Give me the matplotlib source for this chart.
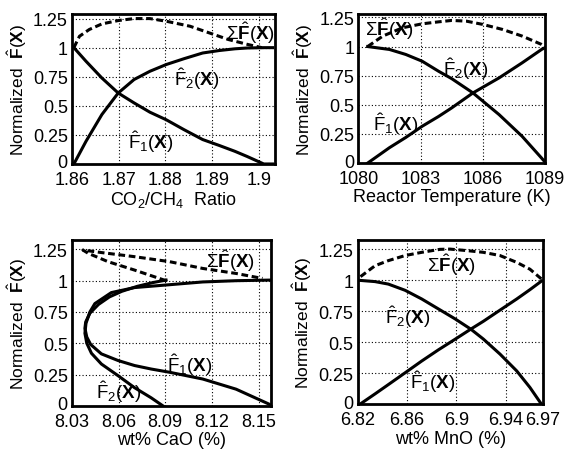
import numpy as np
import matplotlib
matplotlib.use("Agg")
import matplotlib.pyplot as plt
import matplotlib.transforms as mtransforms

plt.rcParams['font.family'] = ['Liberation Sans', 'DejaVu Sans']
plt.rcParams['mathtext.fontset'] = 'custom'
plt.rcParams['mathtext.rm'] = 'Liberation Sans'
plt.rcParams['mathtext.it'] = 'Liberation Sans'
plt.rcParams['mathtext.bf'] = 'Liberation Sans:bold'

# --- data ---
# CO2/CH4 ratio
ratio = [1.8604, 1.863, 1.8664, 1.8699, 1.8733, 1.8767, 1.8802, 1.8840, 1.888, 1.8915, 1.8949, 1.8975, 1.9011, 1.9030]
ratio_f1 = [1.0, 0.883, 0.739, 0.61, 0.525, 0.445, 0.38, 0.295, 0.21, 0.16, 0.109, 0.065, 0.0, 0.0]
ratio_f2 = [0.0, 0.195, 0.425, 0.61, 0.726, 0.797, 0.855, 0.905, 0.954, 0.975, 0.99, 0.997, 1.0, 1.0]
ratio_sum_x = [1.8604, 1.8616, 1.8637, 1.8664, 1.8699, 1.8733, 1.8767, 1.8802, 1.8853, 1.8894, 1.8935, 1.8977, 1.9007]
ratio_sum = [1.0, 1.098, 1.156, 1.204, 1.233, 1.25, 1.25, 1.227, 1.184, 1.127, 1.07, 1.027, 1.0]

# reactor temperature
temp = [1080.45, 1081.5, 1082.29, 1083.08, 1083.87, 1084.5, 1085.53, 1086.79, 1087.9, 1088.84, 1089.0]
temp_f1 = [0.0, 0.132, 0.22, 0.316, 0.40, 0.473, 0.602, 0.731, 0.86, 0.975, 0.99]
temp_f2 = [1.0, 0.975, 0.932, 0.874, 0.788, 0.725, 0.602, 0.416, 0.23, 0.043, 0.01]
temp_sum_x = [1080.45, 1081.18, 1082.13, 1083.08, 1083.87, 1084.5, 1085.21, 1086.0, 1086.95, 1087.9, 1088.84, 1089.0]
temp_sum = [1.0, 1.09, 1.161, 1.195, 1.212, 1.224, 1.218, 1.19, 1.147, 1.09, 1.018, 1.0]

# wt% CaO (the curves fold back on themselves)
cao_f1_x = [8.0905, 8.082, 8.072, 8.062, 8.054, 8.047, 8.0415, 8.0388, 8.0383, 8.0395, 8.042,
            8.0489, 8.0596, 8.0702, 8.0809, 8.0928, 8.1141, 8.1355, 8.1568, 8.158]
cao_f1 = [1.005, 0.985, 0.955, 0.915, 0.87, 0.81, 0.74, 0.67, 0.62, 0.55, 0.49,
          0.415, 0.362, 0.322, 0.294, 0.268, 0.214, 0.133, 0.013, 0.0]
cao_f2_x = [8.0884, 8.0809, 8.0702, 8.0596, 8.0489, 8.0425, 8.0395, 8.0383, 8.039, 8.0415,
            8.0447, 8.0553, 8.0702, 8.0928, 8.1141, 8.1355, 8.158]
cao_f2 = [0.0, 0.064, 0.145, 0.241, 0.334, 0.42, 0.50, 0.58, 0.66, 0.75,
          0.817, 0.905, 0.945, 0.968, 0.99, 1.0, 1.005]
cao_sum_x = [8.0905, 8.0702, 8.0532, 8.0404, 8.037, 8.0489, 8.0702, 8.0928, 8.1141, 8.1355, 8.1525]
cao_sum = [1.0, 1.085, 1.152, 1.219, 1.245, 1.225, 1.192, 1.152, 1.098, 1.058, 1.018]

# wt% MnO
mno = [6.8215, 6.834, 6.8448, 6.8584, 6.8719, 6.8854, 6.8989, 6.9117, 6.9219, 6.9354, 6.949, 6.9597, 6.9692]
mno_f1 = [0.0, 0.085, 0.16, 0.255, 0.35, 0.44, 0.525, 0.607, 0.67, 0.76, 0.85, 0.925, 0.995]
mno_f2 = [1.0, 0.99, 0.97, 0.92, 0.85, 0.77, 0.69, 0.607, 0.527, 0.406, 0.27, 0.137, 0.0]
mno_sum_x = [6.8222, 6.834, 6.8448, 6.8584, 6.8719, 6.8867, 6.8949, 6.9084, 6.9219, 6.9354, 6.949, 6.9597, 6.9692]
mno_sum = [1.03, 1.118, 1.159, 1.20, 1.226, 1.25, 1.252, 1.24, 1.226, 1.20, 1.145, 1.09, 1.01]

yticks = [0, 0.25, 0.5, 0.75, 1, 1.25]
ytick_labels = ['0', '0.25', '0.5', '0.75', '1', '1.25']

panels = [
    dict(f1x=ratio, f1=ratio_f1, f2x=ratio, f2=ratio_f2, sx=ratio_sum_x, s=ratio_sum,
         xlim=(1.86, 1.9035), xticks=[1.86, 1.87, 1.88, 1.89, 1.9],
         xlabels=['1.86', '1.87', '1.88', '1.89', '1.9'],
         xlabel=r'CO$_2$/CH$_4$  Ratio', ylim=(0, 1.29),
         pos=[0.127, 0.635, 0.358, 0.332],
         lab_s=(1.8929, 1.135), lab_1=(1.8719, 0.195), lab_2=(1.8819, 0.74)),
    dict(f1x=temp, f1=temp_f1, f2x=temp, f2=temp_f2, sx=temp_sum_x, s=temp_sum,
         xlim=(1080.08, 1088.95), xticks=[1080, 1083, 1086, 1089],
         xlabels=['1080', '1083', '1086', '1089'],
         xlabel='Reactor Temperature (K)', ylim=(0, 1.28),
         pos=[0.632, 0.637, 0.329, 0.330],
         lab_s=(1080.31, 1.16), lab_1=(1080.71, 0.344), lab_2=(1084.1, 0.817)),
    dict(f1x=cao_f1_x, f1=cao_f1, f2x=cao_f2_x, f2=cao_f2, sx=cao_sum_x, s=cao_sum,
         xlim=(8.03, 8.158), xticks=[8.03, 8.06, 8.09, 8.12, 8.15],
         xlabels=['8.03', '8.06', '8.09', '8.12', '8.15'],
         xlabel='wt% CaO (%)', ylim=(0, 1.326),
         pos=[0.127, 0.100, 0.351, 0.367],
         lab_s=(8.1163, 1.166), lab_1=(8.0909, 0.33), lab_2=(8.0457, 0.12)),
    dict(f1x=mno, f1=mno_f1, f2x=mno, f2=mno_f2, sx=mno_sum_x, s=mno_sum,
         xlim=(6.82, 6.97), xticks=[6.82, 6.86, 6.90, 6.94, 6.97],
         xlabels=['6.82', '6.86', '6.9', '6.94', '6.97'],
         xlabel='wt% MnO (%)', ylim=(0, 1.326),
         pos=[0.631, 0.103, 0.326, 0.364],
         lab_s=(6.876, 1.13), lab_1=(6.8624, 0.19), lab_2=(6.842, 0.715)),
]

fig = plt.figure(figsize=(5.67, 4.52), dpi=100)
# small upward nudge for the "0" tick label, like the original
nudge = mtransforms.ScaledTranslation(0, 3 / 100, fig.dpi_scale_trans)

for p in panels:
    ax = fig.add_axes(p['pos'])
    ax.plot(p['f1x'], p['f1'], color='black', linewidth=2.2)
    ax.plot(p['f2x'], p['f2'], color='black', linewidth=2.2)
    ax.plot(p['sx'], p['s'], color='black', linewidth=2.2, linestyle=(0, (2.2, 1.2)))
    ax.set_xlim(p['xlim'])
    ax.set_ylim(p['ylim'])
    ax.set_xticks(p['xticks'])
    ax.set_xticklabels(p['xlabels'])
    ax.set_yticks(yticks)
    ax.set_yticklabels(ytick_labels)
    ax.grid(True, color='black', linestyle=(0, (1, 2)), linewidth=0.8)
    ax.tick_params(direction='in', length=0, labelsize=13)
    ax.tick_params(axis='x', pad=5)
    ax.tick_params(axis='y', pad=3)
    lbl0 = ax.get_yticklabels()[0]
    lbl0.set_transform(lbl0.get_transform() + nudge)
    for s in ax.spines.values():
        s.set_linewidth(2)
    ax.set_xlabel(p['xlabel'], fontsize=13, labelpad=1)
    ax.set_ylabel(r'Normalized  $\hat{\mathbf{F}}(\mathbf{X})$', fontsize=12.5, labelpad=3)
    ax.text(*p['lab_s'], r'$\Sigma\hat{\mathbf{F}}(\mathbf{X})$', fontsize=13.5, va='center')
    ax.text(*p['lab_1'], r'$\hat{\mathrm{F}}_1(\mathbf{X})$', fontsize=13.5, va='center')
    ax.text(*p['lab_2'], r'$\hat{\mathrm{F}}_2(\mathbf{X})$', fontsize=13.5, va='center')

fig.savefig('out.png', dpi=100)
